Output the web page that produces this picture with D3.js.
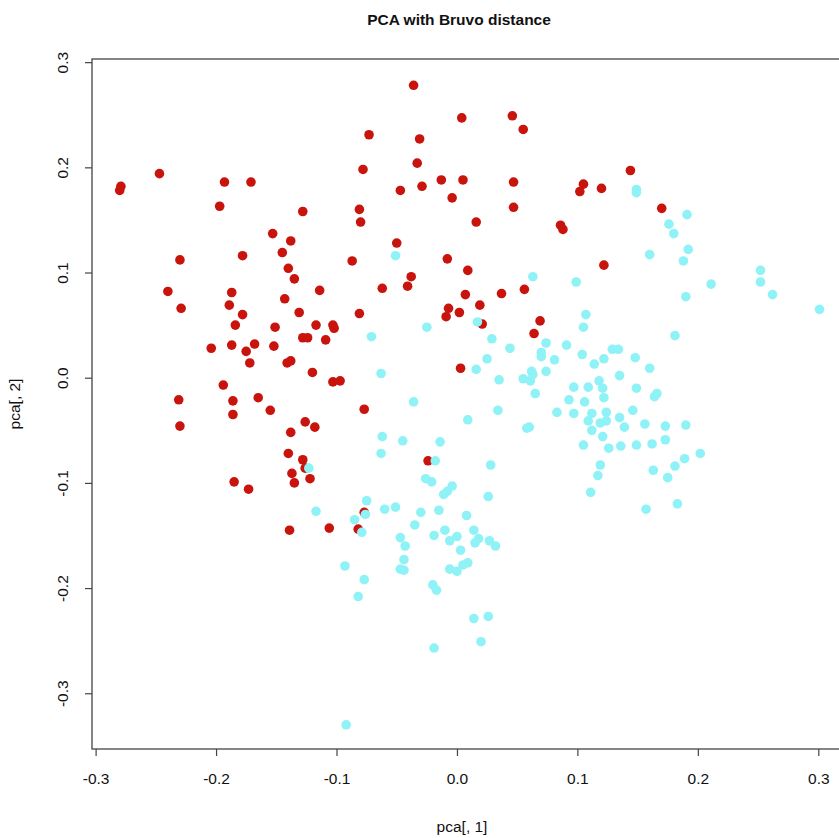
<!DOCTYPE html>
<html>
<head>
<meta charset="utf-8">
<script src="https://cdn.jsdelivr.net/npm/d3@7"></script>
<style>
  body { margin: 0; background: #fff; }
  svg { display: block; font-family: "Liberation Sans", Arial, Helvetica, sans-serif; }
</style>
</head>
<body>
<div id="chart"></div>
<script>
// group 1 (red)
var redPC1 = [-0.279, -0.280, -0.247, -0.193, -0.171, -0.197, -0.128, -0.153, -0.036, 0.004,
    0.046, 0.055, -0.073, -0.031, -0.033, -0.078, -0.013, 0.005, 0.047, -0.047,
    -0.029, -0.004, 0.047, -0.081, -0.080, 0.016, 0.105, 0.102, 0.086, 0.088,
    0.120, 0.144, 0.170, 0.122, -0.050, -0.087, -0.008, 0.009, -0.038, -0.041,
    -0.062, 0.007, 0.037, 0.056, 0.019, -0.007, -0.009, 0.002, -0.081, -0.103,
    -0.102, 0.021, 0.069, 0.064, 0.003, -0.103, -0.097, -0.138, -0.230, -0.178,
    -0.145, -0.140, -0.135, -0.240, -0.187, -0.114, -0.229, -0.189, -0.143, -0.178,
    -0.131, -0.184, -0.151, -0.117, -0.128, -0.124, -0.109, -0.204, -0.187, -0.168,
    -0.175, -0.152, -0.172, -0.141, -0.138, -0.120, -0.194, -0.231, -0.186, -0.165,
    -0.186, -0.155, -0.230, -0.126, -0.118, -0.138, -0.140, -0.128, -0.126, -0.137,
    -0.122, -0.135, -0.185, -0.173, -0.139, -0.106, -0.077, -0.024, -0.077, -0.082];
var redPC2 = [0.182, 0.178, 0.194, 0.186, 0.186, 0.163, 0.158, 0.137, 0.278, 0.247,
    0.249, 0.236, 0.231, 0.227, 0.204, 0.198, 0.188, 0.188, 0.186, 0.178,
    0.182, 0.171, 0.162, 0.160, 0.148, 0.148, 0.184, 0.177, 0.145, 0.141,
    0.180, 0.197, 0.161, 0.107, 0.128, 0.111, 0.113, 0.102, 0.096, 0.087,
    0.085, 0.079, 0.080, 0.084, 0.069, 0.066, 0.058, 0.062, 0.061, 0.050,
    0.047, 0.051, 0.054, 0.042, 0.009, -0.004, -0.003, 0.130, 0.112, 0.116,
    0.119, 0.104, 0.094, 0.082, 0.081, 0.083, 0.066, 0.069, 0.075, 0.060,
    0.062, 0.050, 0.048, 0.050, 0.038, 0.038, 0.036, 0.028, 0.031, 0.032,
    0.025, 0.030, 0.014, 0.014, 0.016, 0.005, -0.007, -0.021, -0.022, -0.019,
    -0.035, -0.031, -0.046, -0.042, -0.047, -0.052, -0.072, -0.078, -0.086, -0.091,
    -0.096, -0.100, -0.099, -0.106, -0.145, -0.143, -0.030, -0.079, -0.128, -0.144];

// group 2 (cyan)
var cyanPC1 = [0.149, 0.149, 0.191, 0.176, 0.180, 0.192, 0.160, 0.188, 0.211, 0.252,
    0.252, 0.262, 0.301, 0.190, 0.107, 0.105, 0.181, 0.129, 0.134, 0.104,
    0.122, 0.114, 0.148, 0.160, 0.135, 0.118, 0.121, 0.109, 0.149, 0.166,
    0.164, 0.122, 0.106, 0.112, 0.124, 0.146, 0.109, 0.119, 0.124, 0.135,
    0.139, 0.156, 0.173, 0.190, 0.112, 0.121, 0.105, 0.126, 0.136, 0.149,
    0.162, 0.173, 0.202, 0.189, 0.181, 0.119, 0.163, 0.175, 0.117, 0.111,
    0.183, 0.157, -0.051, 0.063, 0.099, 0.017, -0.025, -0.071, 0.029, 0.074,
    0.091, 0.044, 0.070, 0.070, 0.081, 0.025, 0.016, 0.074, 0.062, 0.063,
    0.055, 0.061, -0.063, 0.035, 0.097, 0.065, 0.093, -0.036, 0.034, 0.009,
    0.058, 0.060, 0.083, 0.097, -0.062, -0.045, -0.014, -0.063, -0.018, 0.028,
    -0.026, -0.021, -0.004, -0.008, -0.011, 0.026, -0.075, -0.076, -0.085, -0.060,
    -0.051, -0.030, -0.015, 0.008, -0.035, -0.079, -0.019, -0.010, -0.006, 0.000,
    0.014, 0.018, 0.015, 0.027, 0.032, -0.047, -0.043, 0.003, -0.093, -0.044,
    -0.047, -0.044, -0.006, 0.000, 0.005, 0.009, -0.077, -0.082, -0.020, -0.017,
    0.014, 0.026, 0.020, -0.019, -0.092, -0.123, -0.117];
var cyanPC2 = [0.179, 0.176, 0.155, 0.146, 0.137, 0.122, 0.117, 0.111, 0.089, 0.102,
    0.091, 0.079, 0.065, 0.077, 0.060, 0.048, 0.040, 0.027, 0.027, 0.022,
    0.018, 0.013, 0.019, 0.009, 0.002, -0.003, -0.010, -0.009, -0.010, -0.015,
    -0.018, -0.019, -0.023, -0.034, -0.033, -0.031, -0.041, -0.043, -0.041, -0.038,
    -0.047, -0.044, -0.046, -0.045, -0.050, -0.056, -0.064, -0.067, -0.065, -0.064,
    -0.063, -0.059, -0.072, -0.077, -0.084, -0.083, -0.088, -0.095, -0.093, -0.109,
    -0.120, -0.125, 0.116, 0.096, 0.091, 0.053, 0.048, 0.039, 0.037, 0.033,
    0.031, 0.028, 0.024, 0.020, 0.017, 0.018, 0.008, 0.006, 0.006, 0.003,
    -0.001, -0.003, 0.004, -0.002, -0.009, -0.015, -0.021, -0.023, -0.031, -0.040,
    -0.048, -0.047, -0.033, -0.034, -0.056, -0.060, -0.061, -0.072, -0.079, -0.083,
    -0.096, -0.099, -0.103, -0.108, -0.111, -0.113, -0.117, -0.130, -0.135, -0.125,
    -0.123, -0.128, -0.126, -0.131, -0.140, -0.147, -0.150, -0.145, -0.155, -0.151,
    -0.145, -0.153, -0.157, -0.155, -0.160, -0.152, -0.160, -0.164, -0.179, -0.173,
    -0.182, -0.183, -0.182, -0.184, -0.178, -0.176, -0.192, -0.208, -0.197, -0.202,
    -0.229, -0.227, -0.251, -0.257, -0.330, -0.086, -0.127];

var xTicks = [-0.3, -0.2, -0.1, 0.0, 0.1, 0.2, 0.3];
var yTicks = [-0.3, -0.2, -0.1, 0.0, 0.1, 0.2, 0.3];

var width = 839;
var height = 838;
var plotLeft = 92, plotRight = 846, plotTop = 59, plotBottom = 749;

var svg = d3.select('#chart')
    .append('svg')
    .attr('width', width)
    .attr('height', height);

var x = d3.scaleLinear()
    .domain([-0.303, 0.323])
    .range([plotLeft, plotRight]);

var y = d3.scaleLinear()
    .domain([-0.353, 0.303])
    .range([plotBottom, plotTop]);

var fmt = function (d) { return d.toFixed(1); };

var xAxis = svg.append('g')
    .attr('transform', 'translate(0,' + plotBottom + ')')
    .call(d3.axisBottom(x).tickValues(xTicks).tickFormat(fmt).tickSize(7).tickPadding(17));
xAxis.select('.domain').remove();
xAxis.selectAll('line').attr('stroke', '#444').attr('stroke-width', 1.2);
xAxis.selectAll('text').attr('fill', '#111').style('font-size', '15.5px');

var yAxis = svg.append('g')
    .attr('transform', 'translate(' + plotLeft + ',0)')
    .call(d3.axisLeft(y).tickValues(yTicks).tickFormat(fmt).tickSize(7));
yAxis.select('.domain').remove();
yAxis.selectAll('line').attr('stroke', '#444').attr('stroke-width', 1.2);
yAxis.selectAll('text')
    .attr('x', 0)
    .attr('dy', 0)
    .attr('text-anchor', 'middle')
    .attr('transform', 'translate(-24.5,0) rotate(-90)')
    .attr('fill', '#111')
    .style('font-size', '15.5px');

svg.append('rect')
    .attr('x', plotLeft)
    .attr('y', plotTop)
    .attr('width', plotRight - plotLeft)
    .attr('height', plotBottom - plotTop)
    .attr('fill', 'none')
    .attr('stroke', '#444')
    .attr('stroke-width', 1.3);

var red = redPC1.map(function (d, i) { return { x: d, y: redPC2[i] }; });
var cyan = cyanPC1.map(function (d, i) { return { x: d, y: cyanPC2[i] }; });

svg.append('g').selectAll('circle')
    .data(red)
    .enter()
    .append('circle')
    .attr('cx', function (d) { return x(d.x); })
    .attr('cy', function (d) { return y(d.y); })
    .attr('r', 4.8)
    .attr('fill', '#c8140c');

svg.append('g').selectAll('circle')
    .data(cyan)
    .enter()
    .append('circle')
    .attr('cx', function (d) { return x(d.x); })
    .attr('cy', function (d) { return y(d.y); })
    .attr('r', 4.8)
    .attr('fill', '#8ff2f6');

svg.append('text')
    .attr('x', 459)
    .attr('y', 25)
    .attr('text-anchor', 'middle')
    .style('font-size', '15.5px')
    .style('font-weight', 'bold')
    .attr('fill', '#111')
    .text('PCA with Bruvo distance');

svg.append('text')
    .attr('x', 462)
    .attr('y', 832)
    .attr('text-anchor', 'middle')
    .style('font-size', '15.5px')
    .attr('fill', '#111')
    .text('pca[, 1]');

svg.append('text')
    .attr('transform', 'translate(20,404) rotate(-90)')
    .attr('text-anchor', 'middle')
    .style('font-size', '15.5px')
    .attr('fill', '#111')
    .text('pca[, 2]');
</script>
</body>
</html>
